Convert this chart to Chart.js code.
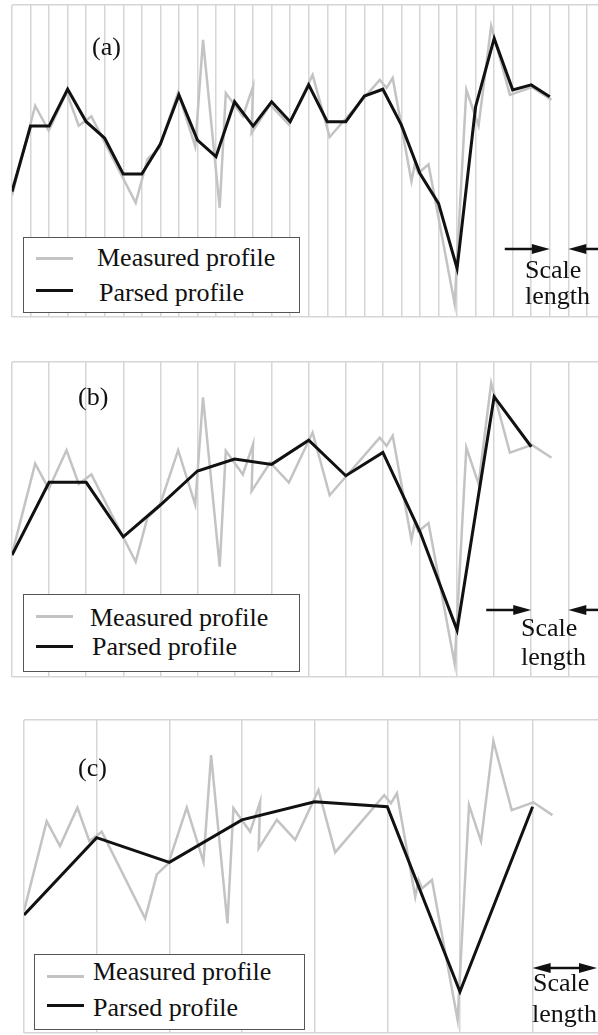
<!DOCTYPE html>
<html>
<head>
<meta charset="utf-8">
<script src="https://cdn.jsdelivr.net/npm/chart.js@4.4.1/dist/chart.umd.min.js"></script>
<style>
  body { margin: 0; background: #fff; }
  #wrap { position: relative; width: 598px; height: 1035px; overflow: hidden; font-family: 'Liberation Serif', 'Times New Roman', serif; color: #111; }
  canvas { position: absolute; left: 0; }
  .t { position: absolute; font-size: 26px; line-height: 26px; white-space: nowrap; }
  .box { position: absolute; box-sizing: border-box; border: 1.3px solid #555; background: #fff; }
  .swatch { position: absolute; width: 37px; height: 3px; }
  .grey { background: #c3c3c3; }
  .black { background: #111; }
</style>
</head>
<body>
<div id="wrap">
  <canvas id="chartA" width="598" height="340" style="top:0"></canvas>
  <canvas id="chartB" width="598" height="345" style="top:345px"></canvas>
  <canvas id="chartC" width="598" height="335" style="top:700px"></canvas>

  <!-- (a) -->
  <div class="t" style="left:92px;top:34px">(a)</div>
  <div class="box" style="left:23px;top:237px;width:277px;height:76px"></div>
  <div class="swatch grey" style="left:36px;top:257px"></div>
  <div class="t" style="left:97px;top:245px">Measured profile</div>
  <div class="swatch black" style="left:36px;top:289px"></div>
  <div class="t" style="left:99px;top:280px">Parsed profile</div>
  <div class="t" style="left:525px;top:257px">Scale</div>
  <div class="t" style="left:525px;top:283px">length</div>

  <!-- (b) -->
  <div class="t" style="left:78px;top:384px">(b)</div>
  <div class="box" style="left:23px;top:594px;width:277px;height:78px"></div>
  <div class="swatch grey" style="left:36px;top:615px"></div>
  <div class="t" style="left:90px;top:605px">Measured profile</div>
  <div class="swatch black" style="left:36px;top:645px"></div>
  <div class="t" style="left:92px;top:634px">Parsed profile</div>
  <div class="t" style="left:521px;top:615px">Scale</div>
  <div class="t" style="left:521px;top:644px">length</div>

  <!-- (c) -->
  <div class="t" style="left:78px;top:755px">(c)</div>
  <div class="box" style="left:34px;top:954px;width:271px;height:76px"></div>
  <div class="swatch grey" style="left:47px;top:975px"></div>
  <div class="t" style="left:93px;top:959px">Measured profile</div>
  <div class="swatch black" style="left:47px;top:1004px"></div>
  <div class="t" style="left:93px;top:995px">Parsed profile</div>
  <div class="t" style="left:533px;top:970px">Scale</div>
  <div class="t" style="left:532px;top:1001px">length</div>
</div>

<script>
// Measured profile (same in all three panels), x in scale units, y in % of panel height
const measuredX = [0, 1.25, 1.98, 2.94, 3.6, 4.28, 6.67, 7.31, 7.95, 8.96, 9.88, 10.3,
    11.2, 11.53, 12.45, 13.0, 12.92, 13.92, 14.93, 16.21, 17.13, 19.83, 20.2, 20.53,
    21.54, 21.72, 21.91, 22.46, 23.87, 24.5, 25.16, 25.84, 26.85, 28.04, 29.09];
const measuredY = [39, 67.7, 59.7, 72.0, 61.3, 64.3, 36.6, 50.7, 54.2, 72.0, 54.7, 88.8,
    35.0, 71.8, 64.3, 73.9, 59.0, 68.1, 61.7, 77.6, 57.7, 76.0, 73.4, 76.6,
    43.5, 48.9, 46.2, 48.9, 4.2, 72.8, 61.3, 93.3, 71.2, 73.7, 69.6];

// Parsed profiles
const parsedAX = [0, 1, 2, 3, 4, 5, 6, 7, 8, 9, 10, 11, 12, 13, 14, 15, 16, 17, 18, 19,
    20, 21, 22, 23, 24, 25, 26, 27, 28, 29];
const parsedAY = [40.2, 61.2, 61.2, 73.0, 62.6, 57.3, 45.8, 45.8, 55.4, 71.2, 56.7, 51.4,
    69.0, 61.2, 69.0, 62.6, 74.4, 62.6, 62.6, 70.8, 73.0, 61.5, 46.0, 36.4, 15.6, 67.4,
    89.3, 72.8, 74.4, 70.6];
const parsedBX = [0, 2, 4, 6, 8, 10, 12, 14, 16, 18, 20, 22, 24, 26, 28];
const parsedBY = [38.7, 61.8, 61.8, 44.5, 54.6, 65.4, 69.2, 67.5, 75.2, 63.9, 71.3, 46.1,
    14.9, 89.0, 73.1];
const parsedCX = [0, 4, 8, 12, 16, 20, 24, 28];
const parsedCY = [37.7, 62.4, 54.5, 68.1, 73.9, 72.3, 13.2, 72.3];

const gridColor = 'rgb(214, 214, 214)';

// Draw the "scale length" arrows at grid positions
const scaleArrows = {
    id: 'scaleArrows',
    afterDatasetsDraw(chart, args, opts) {
        const xs = chart.scales.x;
        const ctx = chart.ctx;
        const yy = chart.scales.y.getPixelForValue(opts.y);
        const p1 = xs.getPixelForValue(opts.from);
        const p2 = Math.min(xs.getPixelForValue(opts.to), chart.width - 1);
        ctx.save();
        ctx.strokeStyle = '#111';
        ctx.fillStyle = '#111';
        ctx.lineWidth = 2.5;
        const head = (tip, dir) => {
            ctx.beginPath();
            ctx.moveTo(tip, yy);
            ctx.lineTo(tip - dir * 18, yy - 5);
            ctx.lineTo(tip - dir * 18, yy + 5);
            ctx.closePath();
            ctx.fill();
        };
        const line = (a, b) => {
            ctx.beginPath();
            ctx.moveTo(a, yy);
            ctx.lineTo(b, yy);
            ctx.stroke();
        };
        if (opts.inward) {
            line(p1 - 45, p1 - 10); head(p1, 1);
            line(chart.width, p2 + 10); head(p2, -1);
        } else {
            line(p1 + 10, p2 - 10); head(p1, -1); head(p2, 1);
        }
        ctx.restore();
    }
};

function makeChart(id, pad, step, parsedX, parsedY, arrow) {
    return new Chart(document.getElementById(id), {
        type: 'line',
        data: {
            datasets: [{
                label: 'Parsed profile',
                data: parsedX.map((x, i) => ({ x: x, y: parsedY[i] })),
                borderColor: '#111',
                borderWidth: 3,
                pointRadius: 0,
                tension: 0,
                order: 0
            }, {
                label: 'Measured profile',
                data: measuredX.map((x, i) => ({ x: x, y: measuredY[i] })),
                borderColor: '#c3c3c3',
                borderWidth: 2.5,
                pointRadius: 0,
                tension: 0,
                order: 1
            }]
        },
        options: {
            responsive: false,
            animation: false,
            events: [],
            layout: { padding: pad },
            plugins: {
                legend: { display: false },
                tooltip: { enabled: false },
                scaleArrows: arrow
            },
            scales: {
                x: {
                    type: 'linear', min: 0, max: 31.6,
                    ticks: { display: false, stepSize: step, includeBounds: false },
                    grid: { color: gridColor, lineWidth: 1.5, drawTicks: false },
                    border: { display: false }
                },
                y: {
                    min: 0, max: 100,
                    ticks: { display: false, stepSize: 100 },
                    grid: { color: gridColor, lineWidth: 1.5, drawTicks: false },
                    border: { display: false }
                }
            }
        },
        plugins: [scaleArrows]
    });
}

const chartA = makeChart('chartA', { left: 12, right: 0, top: 5, bottom: 23 }, 1,
    parsedAX, parsedAY, { from: 29, to: 30, y: 21.8, inward: true });
const chartB = makeChart('chartB', { left: 12, right: 0, top: 17, bottom: 13 }, 2,
    parsedBX, parsedBY, { from: 28, to: 30, y: 21.3, inward: true });
const chartC = makeChart('chartC', { left: 24, right: 0, top: 20, bottom: 2 }, 4,
    parsedCX, parsedCY, { from: 28, to: 32, y: 20.8, inward: false });
</script>
</body>
</html>
